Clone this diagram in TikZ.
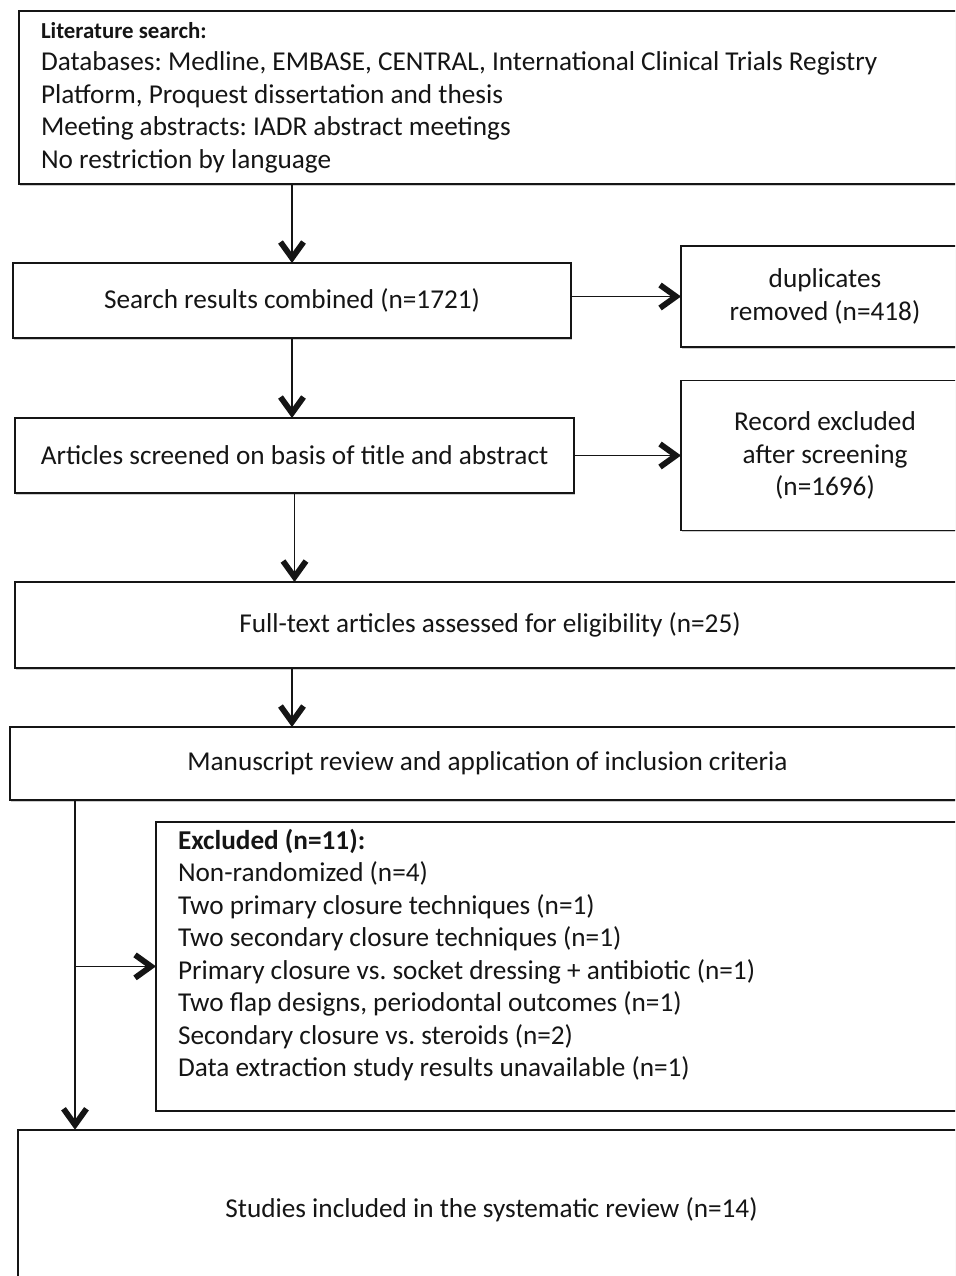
\documentclass[tikz,border=0pt]{standalone}
\usepackage{fontspec}
\setmainfont{Carlito}
\frenchspacing
\usepackage{tikz}
\usetikzlibrary{arrows.meta,positioning,calc,shadows}
\definecolor{ink}{HTML}{151515}
\definecolor{shade}{HTML}{9A9A9A}
\tikzset{
  every node/.style={font=\fontsize{15.5}{18.5}\selectfont, text=ink},
  box/.style={draw=ink, line width=1.1pt, fill=white, align=center, outer sep=0pt, inner xsep=0.2cm, inner ysep=0.14cm, drop shadow={shadow xshift=0.5pt, shadow yshift=-0.9pt, fill=shade, opacity=0.5}},
  listbox/.style={box, align=flush left, inner xsep=0.44cm},
  arrow/.style={-{Straight Barb[length=3.2mm,width=4.6mm,line width=3.3pt]}, line width=0.9pt, draw=ink},
}

\begin{document}
\begin{tikzpicture}
\useasboundingbox (0,0) rectangle (19.1,-25.52);
\clip (0,0) rectangle (19.1,-25.52);
\node[listbox, anchor=north west, text width=18.04cm, minimum height=3.46cm] (lit) at (0.38,-0.22) {{\bfseries\fontsize{13}{18.5}\selectfont Literature search:}\\Databases: Medline, EMBASE, CENTRAL, International Clinical Trials Registry\\Platform, Proquest dissertation and thesis\\Meeting abstracts: IADR abstract meetings\\No restriction by language};
\node[box, minimum width=11.16cm, minimum height=1.5cm, below=1.58cm of lit.south west, anchor=north west, xshift=-0.12cm] (srch) {Search results combined (n=1721)};
\node[box, minimum width=5.76cm, minimum height=2.02cm, right=2.2cm of srch, yshift=0.08cm] (dup) {duplicates\\removed (n=418)};
\node[box, minimum width=11.18cm, minimum height=1.5cm, below=1.6cm of srch.south west, anchor=north west, xshift=0.04cm] (scr) {Articles screened on basis of title and abstract};
\node[box, minimum width=5.76cm, minimum height=3cm, right=2.14cm of scr] (rec) {Record excluded\\after screening\\(n=1696)};
\node[box, minimum width=19cm, minimum height=1.72cm, below=1.78cm of scr.south west, anchor=north west] (full) {Full-text articles assessed for eligibility (n=25)};
\node[box, minimum width=19.1cm, minimum height=1.46cm, below=1.18cm of full.south west, anchor=north west, xshift=-0.1cm] (man) {Manuscript review and application of inclusion criteria};
\node[listbox, text width=15.38cm, text depth=5.09cm, below=0.44cm of man.south west, anchor=north west, xshift=2.92cm] (exc) {\textbf{Excluded (n=11):}\\Non-randomized (n=4)\\Two primary closure techniques (n=1)\\Two secondary closure techniques (n=1)\\Primary closure vs. socket dressing + antibiotic (n=1)\\Two flap designs, periodontal outcomes (n=1)\\Secondary closure vs. steroids (n=2)\\Data extraction study results unavailable (n=1)};
\node[box, minimum width=18.94cm, minimum height=3.2cm, below=0.38cm of exc.south west, anchor=north west, xshift=-2.76cm] (inc) {Studies included in the systematic review (n=14)};
\coordinate[xshift=1.3cm] (split) at (man.south west);
\draw[arrow](lit.south -| srch.north)--(srch.north);\draw[arrow](dup.west -| srch.east)--(dup.west);
\draw[arrow](srch.south)--(srch.south |- scr.north);\draw[arrow](scr.east)--(scr.east -| rec.west);
\draw[arrow](scr.south)--(scr.south |- full.north);\draw[arrow](srch.south |- full.south)--(srch.south |- man.north);
\draw[arrow](split)--(split |- inc.north);\draw[arrow](split |- exc.west)--(exc.west);
\end{tikzpicture}
\end{document}
